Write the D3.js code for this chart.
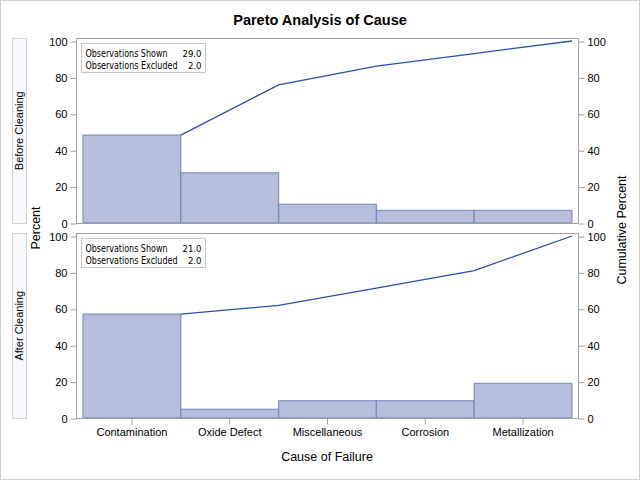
<!DOCTYPE html>
<html><head><meta charset="utf-8">
<script src="https://cdn.jsdelivr.net/npm/d3@7"></script>
<style>body{margin:0;background:#fff}svg{display:block}text{font-family:Arial,"Liberation Sans",sans-serif}</style>
</head><body>
<script>
const categories = ["Contamination","Oxide Defect","Miscellaneous","Corrosion","Metallization"];
const panels = ["Before Cleaning","After Cleaning"];
const percentBefore = [48.3, 27.6, 10.3, 6.9, 6.9];
const cumBefore = [48.3, 75.9, 86.2, 93.1, 100];
const percentAfter = [57.1, 4.8, 9.5, 9.5, 19.0];
const cumAfter = [57.1, 61.9, 71.4, 81.0, 100];
const obsShown = [29.0, 21.0];
const obsExcluded = [2.0, 2.0];
const yTicks = [0, 20, 40, 60, 80, 100];

const W = 640, H = 480;
const svg = d3.select("body").append("svg").attr("width", W).attr("height", H);
svg.append("rect").attr("x",0.5).attr("y",0.5).attr("width",W-1).attr("height",H-1).attr("fill","#fff").attr("stroke","#d0d0d0");

svg.append("text").attr("x",320).attr("y",25).attr("text-anchor","middle")
  .attr("font-size","14.5px").attr("font-weight","bold").text("Pareto Analysis of Cause");

const boxL = 76.5, boxR = 578.5;
const x = d3.scaleBand().domain(categories).range([83, 572]).paddingInner(0).paddingOuter(0);

const panelDefs = [
  {name: panels[0], pct: percentBefore, cum: cumBefore, top: 38.5, y0: 223, y100: 41, shown: obsShown[0], excl: obsExcluded[0]},
  {name: panels[1], pct: percentAfter, cum: cumAfter, top: 233.5, y0: 418, y100: 236, shown: obsShown[1], excl: obsExcluded[1]}
];

const gray = "#a0a0a0";
const tickFont = "Arial, 'Liberation Sans', sans-serif";
panelDefs.forEach(p => {
  const y = d3.scaleLinear().domain([0,100]).range([p.y0, p.y100]);
  const g = svg.append("g");
  g.append("rect").attr("x",12.5).attr("y",p.top).attr("width",14).attr("height",p.y0 - p.top + 0.5)
    .attr("fill","#f8f9fd").attr("stroke","#d4d4d4");
  g.append("text").attr("transform",`translate(23,${(p.top+p.y0)/2}) rotate(-90)`)
    .attr("text-anchor","middle").attr("font-size","11px").text(p.name);
  g.selectAll("rect.bar").data(categories).enter().append("rect").attr("class","bar")
    .attr("x", d => x(d)).attr("width", x.bandwidth())
    .attr("y", (d,i) => y(p.pct[i])).attr("height", (d,i) => y(0) - y(p.pct[i]))
    .attr("fill","#b7bedb").attr("stroke","#6e7fb8").attr("stroke-opacity",0.75).attr("stroke-width",1.3);
  const line = d3.line().x((d,i) => x(categories[i]) + x.bandwidth()).y(d => y(d));
  g.append("path").datum(p.cum).attr("d", line).attr("fill","none").attr("stroke","#2a4fae").attr("stroke-width",1.3);
  g.append("path").attr("d",`M${boxL},${p.y0+0.5}V${p.top}H${boxR}V${p.y0+0.5}`).attr("fill","none").attr("stroke",gray);
  g.append("line").attr("x1",boxL).attr("x2",boxR).attr("y1",p.y0+0.5).attr("y2",p.y0+0.5).attr("stroke",gray);
  const la = g.append("g").attr("transform",`translate(${boxL},0.5)`).call(d3.axisLeft(y).tickValues(yTicks).tickSize(6).tickPadding(3));
  la.select(".domain").remove();
  la.selectAll("line").attr("stroke",gray);
  la.selectAll("text").attr("font-size","11px").attr("font-family",tickFont).attr("fill","#000");
  const ra = g.append("g").attr("transform",`translate(${boxR},0.5)`).call(d3.axisRight(y).tickValues(yTicks).tickSize(6).tickPadding(3));
  ra.select(".domain").remove();
  ra.selectAll("line").attr("stroke",gray);
  ra.selectAll("text").attr("font-size","11px").attr("font-family",tickFont).attr("fill","#000");
  const ix = 81.5, iy = p.top + 5;
  g.append("rect").attr("x",ix).attr("y",iy).attr("width",124).attr("height",29).attr("fill","#fff").attr("stroke","#c8c8c8");
  const rows = [["Observations Shown", p.shown.toFixed(1), 82],["Observations Excluded", p.excl.toFixed(1), 92]];
  rows.forEach((r,i) => {
    g.append("text").attr("x",ix+4).attr("y",iy+13+i*12).attr("font-size","10px")
      .attr("textLength", r[2]).attr("lengthAdjust","spacingAndGlyphs")
      .style("font-family","'DejaVu Sans Condensed','DejaVu Sans',sans-serif").text(r[0]);
    g.append("text").attr("x",ix+120).attr("y",iy+13+i*12).attr("font-size","9.5px").attr("text-anchor","end")
      .style("font-family","'DejaVu Sans Condensed','DejaVu Sans',sans-serif").text(r[1]);
  });
});

const xa = svg.append("g").attr("transform","translate(0,418.5)").call(d3.axisBottom(x).tickSize(6).tickPadding(4));
xa.select(".domain").remove();
xa.selectAll("line").attr("stroke",gray);
xa.selectAll("text").attr("font-size","11px").attr("font-family",tickFont).attr("fill","#000");

svg.append("text").attr("x",327).attr("y",461).attr("text-anchor","middle").attr("font-size","12.5px").text("Cause of Failure");
svg.append("text").attr("transform","translate(40,228) rotate(-90)").attr("text-anchor","middle").attr("font-size","12.5px").text("Percent");
svg.append("text").attr("transform","translate(626,230) rotate(-90)").attr("text-anchor","middle").attr("font-size","12.5px").text("Cumulative Percent");
</script>
</body></html>
